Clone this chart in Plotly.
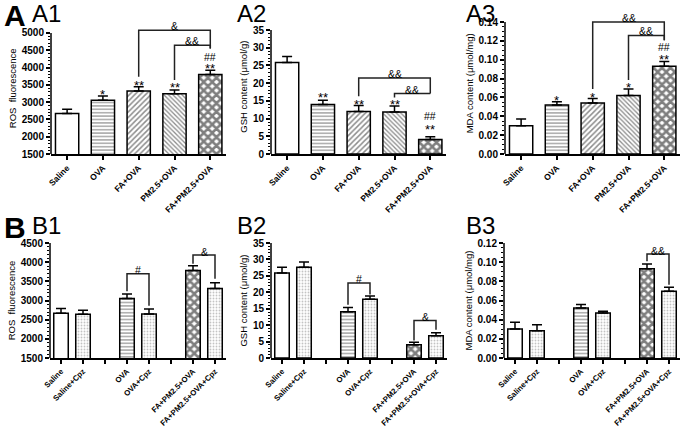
"""
Oxidative stress markers (ROS, GSH, MDA) - six bar panels, GraphPad style.
"""

import plotly.graph_objects as go

# ============================================================
# 1. Data
# ============================================================

W, H = 685, 428

a_groups = ["Saline", "OVA", "FA+OVA", "PM2.5+OVA", "FA+PM2.5+OVA"]
a_pos = [0, 1, 2, 3, 4]
a_patterns = ["", "-", "/", "\\", "x"]

a1_ros = [2670, 3055, 3320, 3245, 3800]
a1_ros_err = [125, 125, 125, 105, 125]
a2_gsh = [25.8, 14.0, 12.0, 11.85, 4.1]
a2_gsh_err = [1.75, 1.2, 1.7, 1.7, 0.8]
a3_mda = [0.030, 0.052, 0.054, 0.062, 0.093]
a3_mda_err = [0.007, 0.0035, 0.005, 0.007, 0.005]

b_groups = ["Saline", "Saline+Cpz", "OVA", "OVA+Cpz",
            "FA+PM2.5+OVA", "FA+PM2.5+OVA+Cpz"]
b_pos = [0, 1, 3, 4, 6, 7]
b_sep = [2, 5]
b_patterns = ["", ".", "-", ".", "x", "."]

b1_ros = [2665, 2640, 3050, 2650, 3785, 3310]
b1_ros_err = [128, 103, 120, 128, 120, 155]
b2_gsh = [25.9, 27.6, 14.1, 17.9, 4.0, 6.8]
b2_gsh_err = [1.7, 1.6, 1.3, 0.95, 0.8, 0.9]
b3_mda = [0.0303, 0.0285, 0.0522, 0.047, 0.0932, 0.0696]
b3_mda_err = [0.0069, 0.0063, 0.0035, 0.0017, 0.0048, 0.0041]

# significance marks: (x position, y of glyph, text)
a1_marks = [(1, 3304, "*"), (2, 3573, "**"), (3, 3496, "**"),
            (4, 4072, "**"), (4, 4331, "##")]
a2_marks = [(1, 16.9, "**"), (2, 14.9, "**"), (3, 14.7, "**"),
            (4, 7.8, "**"), (4, 10.9, "##")]
a3_marks = [(1, 0.0595, "*"), (2, 0.0633, "*"), (3, 0.0736, "*"),
            (4, 0.1036, "**"), (4, 0.1143, "##")]

# brackets: (x left, x right, y top, y left end, y right end, text, y text)
a1_brackets = [(2, 4, 5080, 3736, 4552, "&", 5223),
               (3, 4, 4648, 3640, 4552, "&&", 4811)]
a2_brackets = [(2, 4, 21.45, 16.3, 17.07, "&&", 22.8),
               (3, 4, 17.07, 15.95, 17.07, "&&", 18.4)]
a3_brackets = [(2, 4, 0.140, 0.069, 0.1208, "&&", 0.1458),
               (3, 4, 0.1258, 0.0786, 0.1208, "&&", 0.1316)]
b1_brackets = [(3, 4, 3698, 3241, 2862, "#", 3828),
               (6, 7, 4190, 3957, 3569, "&", 4302)]
b2_brackets = [(3, 4, 22.8, 16.2, 19.3, "#", 24.3),
               (6, 7, 11.4, 5.3, 8.6, "&", 12.9)]
b3_brackets = [(6, 7, 0.1085, 0.101, 0.0765, "&&", 0.113)]


# ============================================================
# 2. Styles
# ============================================================

FONT = "Arial, Liberation Sans, sans-serif"

# pattern shape -> (cell size, solidity, line colour)
pattern_style = {
    "": (4, 0.2, "white"),
    "-": (3.4, 0.33, "#111111"),
    "/": (3.8, 0.4, "#1a1a1a"),
    "\\": (3.2, 0.4, "#1a1a1a"),
    "x": (6.0, 0.68, "#000000"),
    ".": (3.0, 0.3, "#888888"),
}


def frange(start, stop, step):
    vals = []
    v = start
    while v <= stop + step * 1e-6:
        vals.append(round(v, 6))
        v += step
    return vals


panels = [
    dict(n=1, pos=a_pos, y=a1_ros, err=a1_ros_err, labels=a_groups, pats=a_patterns,
         xdom=(51, 226.4), xrange=(-0.45, 4.45), ydom=(154, 22.6), yrange=(1500, 5300),
         ticks=frange(1500, 5000, 500), minor=frange(1500, 5000, 100), fmt="d",
         title="ROS  fluorescence", width=0.65, marks=a1_marks, brackets=a1_brackets),
    dict(n=2, pos=a_pos, y=a2_gsh, err=a2_gsh_err, labels=a_groups, pats=a_patterns,
         xdom=(271, 446.4), xrange=(-0.45, 4.45), ydom=(154, 19.4), yrange=(0, 38),
         ticks=frange(0, 35, 5), minor=frange(0, 35, 1), fmt="d",
         title="GSH content (μmol/g)", width=0.65, marks=a2_marks, brackets=a2_brackets),
    dict(n=3, pos=a_pos, y=a3_mda, err=a3_mda_err, labels=a_groups, pats=a_patterns,
         xdom=(505, 680.4), xrange=(-0.45, 4.45), ydom=(154, 12.6), yrange=(0, 0.15),
         ticks=frange(0, 0.14, 0.02), minor=frange(0, 0.14, 0.005), fmt=".2f",
         title="MDA content (μmol/mg)", width=0.65, marks=a3_marks, brackets=a3_brackets),
    dict(n=4, pos=b_pos, y=b1_ros, err=b1_ros_err, labels=b_groups, pats=b_patterns,
         xdom=(50, 226), xrange=(-0.5, 7.5), ydom=(358, 243), yrange=(1500, 4500),
         ticks=frange(1500, 4500, 500), minor=frange(1500, 4500, 100), fmt="d",
         title="ROS  fluorescence", width=0.66, marks=[], brackets=b1_brackets),
    dict(n=5, pos=b_pos, y=b2_gsh, err=b2_gsh_err, labels=b_groups, pats=b_patterns,
         xdom=(271, 447), xrange=(-0.5, 7.5), ydom=(358, 243), yrange=(0, 35),
         ticks=frange(0, 35, 5), minor=frange(0, 35, 1), fmt="d",
         title="GSH content (μmol/g)", width=0.66, marks=[], brackets=b2_brackets),
    dict(n=6, pos=b_pos, y=b3_mda, err=b3_mda_err, labels=b_groups, pats=b_patterns,
         xdom=(504, 680), xrange=(-0.5, 7.5), ydom=(358, 243), yrange=(0, 0.12),
         ticks=frange(0, 0.12, 0.02), minor=frange(0, 0.12, 0.005), fmt=".2f",
         title="MDA content (μmol/mg)", width=0.66, marks=[], brackets=b3_brackets),
]


# ============================================================
# 3. Build figure
# ============================================================

fig = go.Figure()
layout_axes = {}
shapes = []
annotations = []

for p in panels:
    n = p["n"]
    sfx = "" if n == 1 else str(n)
    xa, ya = "x" + sfx, "y" + sfx

    sizes = [pattern_style[s][0] for s in p["pats"]]
    solid = [pattern_style[s][1] for s in p["pats"]]
    fgs = [pattern_style[s][2] for s in p["pats"]]

    fig.add_trace(go.Bar(
        x=p["pos"], y=p["y"],
        xaxis=xa, yaxis=ya, width=p["width"],
        marker=dict(color="white", line=dict(color="black", width=1.5),
                    pattern=dict(shape=p["pats"], size=sizes, solidity=solid,
                                 fgcolor=fgs, bgcolor="white", fillmode="overlay")),
        error_y=dict(type="data", array=p["err"], arrayminus=[0] * len(p["err"]),
                     symmetric=False, thickness=1.5, width=5, color="black"),
        showlegend=False, hoverinfo="skip",
    ))

    # tick labels for x (group separators in B panels get ticks, no labels)
    tickvals = list(p["pos"])
    ticktext = list(p["labels"])
    if n >= 4:
        tickvals += b_sep
        ticktext += ["", ""]

    x0, x1 = p["xdom"]
    yb, yt = p["ydom"]
    layout_axes["xaxis" + sfx] = dict(
        domain=[x0 / W, x1 / W], anchor=ya, range=list(p["xrange"]),
        tickvals=tickvals, ticktext=ticktext, tickangle=-45,
        tickfont=dict(family=FONT, size=8.5 if n <= 3 else 7.8,
                      color="black", weight="bold"),
        ticks="outside", ticklen=4, tickwidth=1.5, tickcolor="black",
        showline=True, linecolor="black", linewidth=1.5,
        showgrid=False, zeroline=False, automargin=False, fixedrange=True,
    )
    layout_axes["yaxis" + sfx] = dict(
        domain=[1 - yb / H, 1 - yt / H], anchor=xa, range=list(p["yrange"]),
        tickvals=p["ticks"], tickformat=p["fmt"],
        tickfont=dict(family=FONT, size=10, color="black", weight="bold"),
        ticks="outside", ticklen=4, tickwidth=1.5, tickcolor="black",
        minor=dict(tickvals=p["minor"], ticks="outside", ticklen=2,
                   tickwidth=1, tickcolor="black"),
        showline=False, showgrid=False, zeroline=False, automargin=False,
        title=dict(text=p["title"], font=dict(family=FONT, size=9.5, color="black"),
                   standoff=3),
        fixedrange=True,
    )

    # y axis line only up to the top tick
    shapes.append(dict(type="line", xref=xa + " domain", yref=ya,
                       x0=0, x1=0, y0=p["yrange"][0], y1=p["ticks"][-1],
                       line=dict(color="black", width=1.5)))

    for xm, ym, txt in p["marks"]:
        annotations.append(dict(
            x=xm, y=ym, xref=xa, yref=ya, text=txt, showarrow=False,
            yshift=-3 if "*" in txt else -1,
            font=dict(family=FONT, size=13 if "*" in txt else 10.5, color="black"),
        ))

    for bx0, bx1, btop, by0, by1, txt, ty in p["brackets"]:
        shapes.append(dict(
            type="path", xref=xa, yref=ya,
            path=f"M {bx0},{by0} L {bx0},{btop} L {bx1},{btop} L {bx1},{by1}",
            line=dict(color="#222222", width=1.5),
        ))
        annotations.append(dict(
            x=(bx0 + bx1) / 2, y=ty, xref=xa, yref=ya, text=txt, showarrow=False,
            yshift=-1, font=dict(family=FONT, size=10.5, color="black"),
        ))

# panel letters
for txt, xp, yp, size in [("A", 2, -3, 30), ("B", 2, 209, 30),
                          ("A1", 30, -2, 24), ("A2", 235, -2, 24), ("A3", 464, -2, 24),
                          ("B1", 30, 210, 24), ("B2", 235, 210, 24), ("B3", 464, 210, 24)]:
    annotations.append(dict(
        x=xp / W, y=1 - yp / H, xref="paper", yref="paper", text=txt,
        showarrow=False, xanchor="left", yanchor="top",
        font=dict(family=FONT, size=size, color="black",
                  weight="bold" if len(txt) == 1 else "normal"),
    ))

fig.update_layout(
    width=W, height=H,
    margin=dict(l=0, r=0, t=0, b=0),
    paper_bgcolor="white", plot_bgcolor="white",
    showlegend=False, bargap=0.3,
    shapes=shapes, annotations=annotations,
    **layout_axes,
)

# the page body has a default 8px margin; remove it so the figure fills the window
fig.write_html("out.html", config={"displayModeBar": False},
               post_script="document.body.style.margin='0';document.body.style.padding='0';")
